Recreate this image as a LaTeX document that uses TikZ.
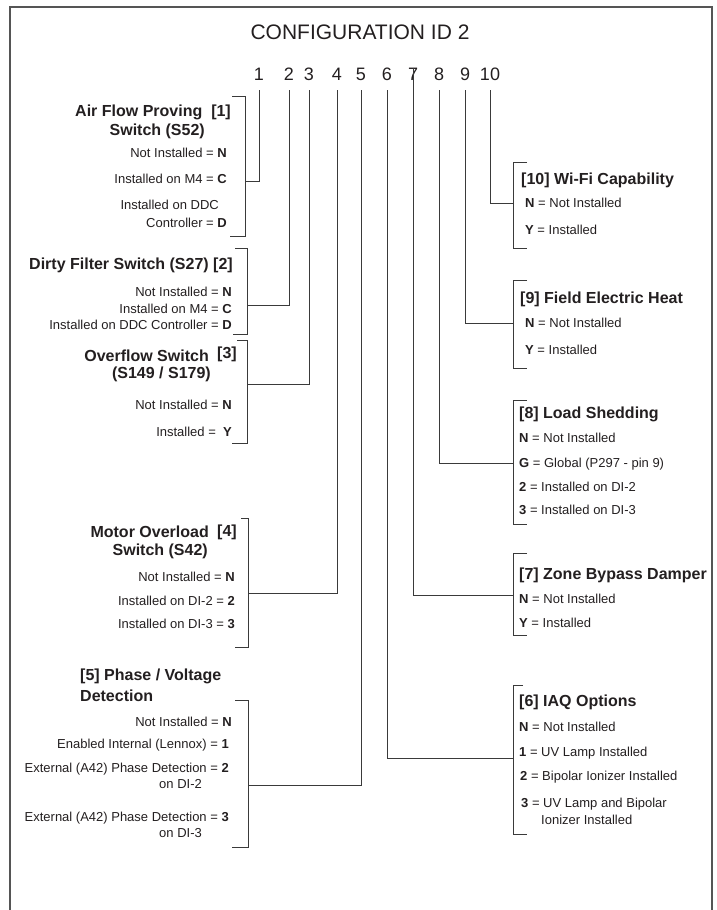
\documentclass[tikz,border=0pt]{standalone}
\usepackage{fontspec}
\setmainfont{Liberation Sans}
\definecolor{lc}{HTML}{3A3A3A}
\definecolor{fc}{HTML}{555555}
\definecolor{tc}{HTML}{231F20}
\begin{document}
\begin{tikzpicture}[x=1pt,y=-1pt,
  ln/.style={draw=lc, line width=1pt},
  frame/.style={draw=fc, line width=1.6pt},
  opt/.style={font=\fontsize{13}{15}\selectfont, inner sep=0pt, text=tc},
  ttl/.style={font=\bfseries\fontsize{16}{19}\selectfont, inner sep=0pt, text=tc},
  num/.style={font=\fontsize{18}{21}\selectfont, inner sep=0pt, minimum height=32pt, text=tc},
  L/.style={anchor=base east},
  R/.style={anchor=base west}]
\useasboundingbox (0,0) rectangle (717,910);
% frame
\draw[frame] (10,910) -- (10,7) -- (712,7) -- (712,910);
% title
\node[font=\fontsize{21}{25}\selectfont, text=tc, inner sep=0pt] (title) at (360,32) {CONFIGURATION ID 2};
% position numbers
\node[num] (n1) at (259,74) {1};
\node[num] (n2) at (289,74) {2};
\node[num] (n3) at (309,74) {3};
\node[num] (n4) at (337,74) {4};
\node[num] (n5) at (361,74) {5};
\node[num] (n6) at (387,74) {6};
\node[num] (n7) at (413,74) {7};
\node[num] (n8) at (439,74) {8};
\node[num] (n9) at (465,74) {9};
\node[num] (n10) at (490,74) {10};

% ---------- [1]
\node[ttl,L] (t1a) at (231,116) {Air Flow Proving\ \ [1]};
\node[ttl,L] (t1b) at (205,135) {Switch (S52)};
\node[opt,L] (o1a) at (227,157.7) {Not Installed = \textbf{N}};
\node[opt,L] (o1b) at (227,183.7) {Installed on M4 = \textbf{C}};
\node[opt,L] (o1c) at (219,209.7) {Installed on DDC};
\node[opt,L] (o1d) at (227,227.7) {Controller = \textbf{D}};
\draw[ln] (232,96) -- (245,96) -- (245,236) -- (230,236);
\coordinate (b1) at (245,181);

% ---------- [2]
\node[ttl,L] (t2) at (233,269.8) {Dirty Filter Switch (S27) [2]};
\node[opt,L] (o2a) at (232,296.7) {Not Installed = \textbf{N}};
\node[opt,L] (o2b) at (232,313.7) {Installed on M4 = \textbf{C}};
\node[opt,L] (o2c) at (232,329.7) {Installed on DDC Controller = \textbf{D}};
\draw[ln] (235,248) -- (247,248) -- (247,334) -- (233,334);
\coordinate (b2) at (247,305);

% ---------- [3]
\node[ttl,L] (t3a) at (209,361.8) {Overflow Switch};
\node[ttl,L] (t3c) at (237,358) {[3]};
\node[ttl,L] (t3b) at (211,378.5) {(S149 / S179)};
\node[opt,L] (o3a) at (232,409.7) {Not Installed = \textbf{N}};
\node[opt,L] (o3b) at (232,436.2) {Installed =\ \ \textbf{Y}};
\draw[ln] (237,340) -- (247,340) -- (247,443) -- (232,443);
\coordinate (b3) at (247,384);

% ---------- [4]
\node[ttl,L] (t4a) at (209,537.8) {Motor Overload};
\node[ttl,L] (t4c) at (237,536.8) {[4]};
\node[ttl,L] (t4b) at (208,555.8) {Switch (S42)};
\node[opt,L] (o4a) at (235,581.7) {Not Installed = \textbf{N}};
\node[opt,L] (o4b) at (235,605.7) {Installed on DI-2 = \textbf{2}};
\node[opt,L] (o4c) at (235,628.7) {Installed on DI-3 = \textbf{3}};
\draw[ln] (241,518) -- (248,518) -- (248,647) -- (235,647);
\coordinate (b4) at (248,593);

% ---------- [5]
\node[ttl,R] (t5a) at (80,680.8) {[5] Phase / Voltage};
\node[ttl,R] (t5b) at (80,701.8) {Detection};
\node[opt,L] (o5a) at (232,726.7) {Not Installed = \textbf{N}};
\node[opt,L] (o5b) at (229,748.7) {Enabled Internal (Lennox) = \textbf{1}};
\node[opt,L] (o5c) at (229,772.7) {External (A42) Phase Detection = \textbf{2}};
\node[opt,R] (o5d) at (159,788.7) {on DI-2};
\node[opt,L] (o5e) at (229,821.7) {External (A42) Phase Detection = \textbf{3}};
\node[opt,R] (o5f) at (159,837.7) {on DI-3};
\draw[ln] (235,700) -- (248,700) -- (248,847) -- (232,847);
\coordinate (b5) at (248,785);

% ---------- [10]
\node[ttl,R] (t10) at (521,184.8) {[10] Wi-Fi Capability};
\node[opt,R] (o10a) at (525,207.7) {\textbf{N} = Not Installed};
\node[opt,R] (o10b) at (525,234.7) {\textbf{Y} = Installed};
\draw[ln] (527,162) -- (513,162) -- (513,248) -- (527,248);
\coordinate (b10) at (513,203);

% ---------- [9]
\node[ttl,R] (t9) at (520,303.8) {[9] Field Electric Heat};
\node[opt,R] (o9a) at (525,327.7) {\textbf{N} = Not Installed};
\node[opt,R] (o9b) at (525,354.7) {\textbf{Y} = Installed};
\draw[ln] (527,280) -- (513,280) -- (513,368) -- (527,368);
\coordinate (b9) at (513,323);

% ---------- [8]
\node[ttl,R] (t8) at (519,418.8) {[8] Load Shedding};
\node[opt,R] (o8a) at (519,442.7) {\textbf{N} = Not Installed};
\node[opt,R] (o8b) at (519,467.7) {\textbf{G} = Global (P297 - pin 9)};
\node[opt,R] (o8c) at (519,491.7) {\textbf{2} = Installed on DI-2};
\node[opt,R] (o8d) at (519,514.7) {\textbf{3} = Installed on DI-3};
\draw[ln] (527,400) -- (513,400) -- (513,524) -- (527,524);
\coordinate (b8) at (513,463);

% ---------- [7]
\node[ttl,R] (t7) at (519,579.8) {[7] Zone Bypass Damper};
\node[opt,R] (o7a) at (519,603.7) {\textbf{N} = Not Installed};
\node[opt,R] (o7b) at (519,627.7) {\textbf{Y} = Installed};
\draw[ln] (527,553) -- (513,553) -- (513,635) -- (527,635);
\coordinate (b7) at (513,595);

% ---------- [6]
\node[ttl,R] (t6) at (519,706.8) {[6] IAQ Options};
\node[opt,R] (o6a) at (519,731.7) {\textbf{N} = Not Installed};
\node[opt,R] (o6b) at (519,756.7) {\textbf{1}\ = UV Lamp Installed};
\node[opt,R] (o6c) at (520,780.7) {\textbf{2}\ = Bipolar Ionizer Installed};
\node[opt,R] (o6d) at (521,807.7) {\textbf{3}\ = UV Lamp and Bipolar};
\node[opt,R] (o6e) at (541,824.7) {Ionizer Installed};
\draw[ln] (523,685) -- (513,685) -- (513,834) -- (527,834);
\coordinate (b6) at (513,758);

% connectors
\draw[ln] (n1.south) |- (b1);
\draw[ln] (n2.south) |- (b2);
\draw[ln] (n3.south) |- (b3);
\draw[ln] (n4.south) |- (b4);
\draw[ln] (n5.south) |- (b5);
\draw[ln] (n6.south) |- (b6);
\draw[ln] ([yshift=-10pt]n7.north) |- (b7);
\draw[ln] (n8.south) |- (b8);
\draw[ln] (n9.south) |- (b9);
\draw[ln] (n10.south) |- (b10);
\end{tikzpicture}
\end{document}
